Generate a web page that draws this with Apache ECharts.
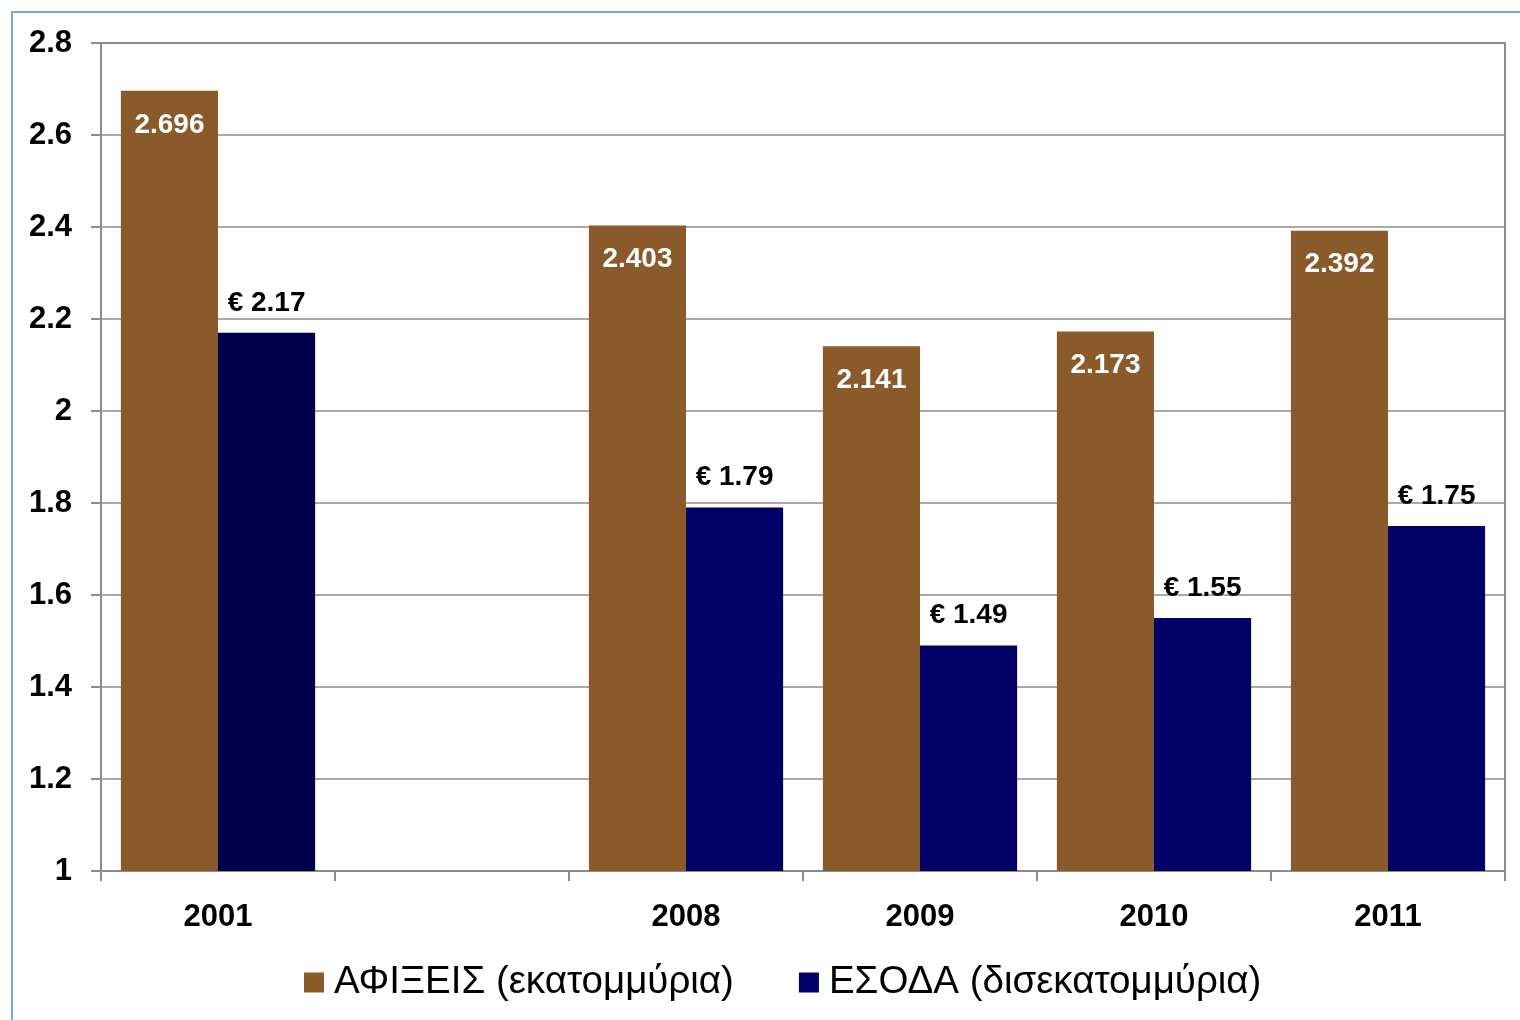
<!DOCTYPE html>
<html lang="el">
<head>
<meta charset="UTF-8">
<script src="https://cdn.jsdelivr.net/npm/echarts@6/dist/echarts.min.js"></script>
<title>Αφίξεις και έσοδα</title>
<style>
  html, body { margin: 0; padding: 0; background: #fff; }
  #frame { position: absolute; left: 11px; top: 11px; width: 1520px; height: 1020px; border: 2px solid #7fa6d6; box-sizing: border-box; }
  #main { position: absolute; left: 0; top: 0; width: 1520px; height: 1020px; }
</style>
</head>
<body>
<div id="frame"></div>
<div id="main"></div>
<script>
  var years = ['2001', '', '2008', '2009', '2010', '2011'];
  var arrivals = [2.696, null, 2.403, 2.141, 2.173, 2.392];
  var revenue = [2.17, null, 1.79, 1.49, 1.55, 1.75];
  var seriesNames = ['ΑΦΙΞΕΙΣ (εκατομμύρια)', 'ΕΣΟΔΑ (δισεκατομμύρια)'];

  var brown = '#8B5A2B';
  var navy = '#000066';
  var axisFont = '"Liberation Sans", Arial, sans-serif';

  var chart = echarts.init(document.getElementById('main'));

  var revenueData = revenue.map(function (v, i) {
    if (v === null) return '-';
    // first year is drawn in a darker shade
    if (i === 0) return { value: v, itemStyle: { color: '#00004A' } };
    return v;
  });

  var option = {
    animation: false,
    grid: {
      left: 101, right: 15, top: 43, bottom: 149,
      show: true, borderColor: '#8c8c8c', borderWidth: 2
    },
    legend: {
      bottom: 13,
      left: 299,
      itemWidth: 20,
      itemHeight: 20,
      itemGap: 65,
      icon: 'rect',
      textStyle: { fontFamily: axisFont, fontSize: 38.5, color: '#000', padding: [0, 0, 0, 5] },
      data: seriesNames
    },
    xAxis: {
      type: 'category',
      data: years,
      axisLine: { lineStyle: { color: '#8c8c8c', width: 2 } },
      axisTick: { show: true, length: 10, lineStyle: { color: '#8c8c8c', width: 2 } },
      axisLabel: {
        interval: 0, margin: 31,
        fontFamily: axisFont, fontSize: 31, fontWeight: 'bold', color: '#000'
      }
    },
    yAxis: {
      type: 'value',
      min: 1, max: 2.8, interval: 0.2,
      axisLine: { show: true, lineStyle: { color: '#8c8c8c', width: 2 } },
      axisTick: { show: true, length: 10, lineStyle: { color: '#8c8c8c', width: 2 } },
      splitLine: { lineStyle: { color: '#8c8c8c', width: 1.5 } },
      axisLabel: {
        margin: 29,
        fontFamily: axisFont, fontSize: 31, fontWeight: 'bold', color: '#000',
        formatter: function (v) { return String(Math.round(v * 10) / 10); }
      }
    },
    series: [
      {
        name: seriesNames[0],
        type: 'bar',
        data: arrivals.map(function (v) { return v === null ? '-' : v; }),
        itemStyle: { color: brown },
        barGap: 0,
        barCategoryGap: '17%',
        label: {
          show: true, position: 'insideTop', distance: 19,
          color: '#fff', fontFamily: axisFont, fontSize: 28, lineHeight: 30, fontWeight: 'bold',
          formatter: function (p) { return p.value.toFixed(3); }
        }
      },
      {
        name: seriesNames[1],
        type: 'bar',
        data: revenueData,
        itemStyle: { color: navy },
        barGap: 0,
        barCategoryGap: '17%',
        label: {
          show: true, position: 'top', distance: 15,
          color: '#000', fontFamily: axisFont, fontSize: 28, lineHeight: 30, fontWeight: 'bold',
          formatter: function (p) { return '€ ' + p.value.toFixed(2); }
        }
      }
    ]
  };

  chart.setOption(option);
</script>
</body>
</html>
